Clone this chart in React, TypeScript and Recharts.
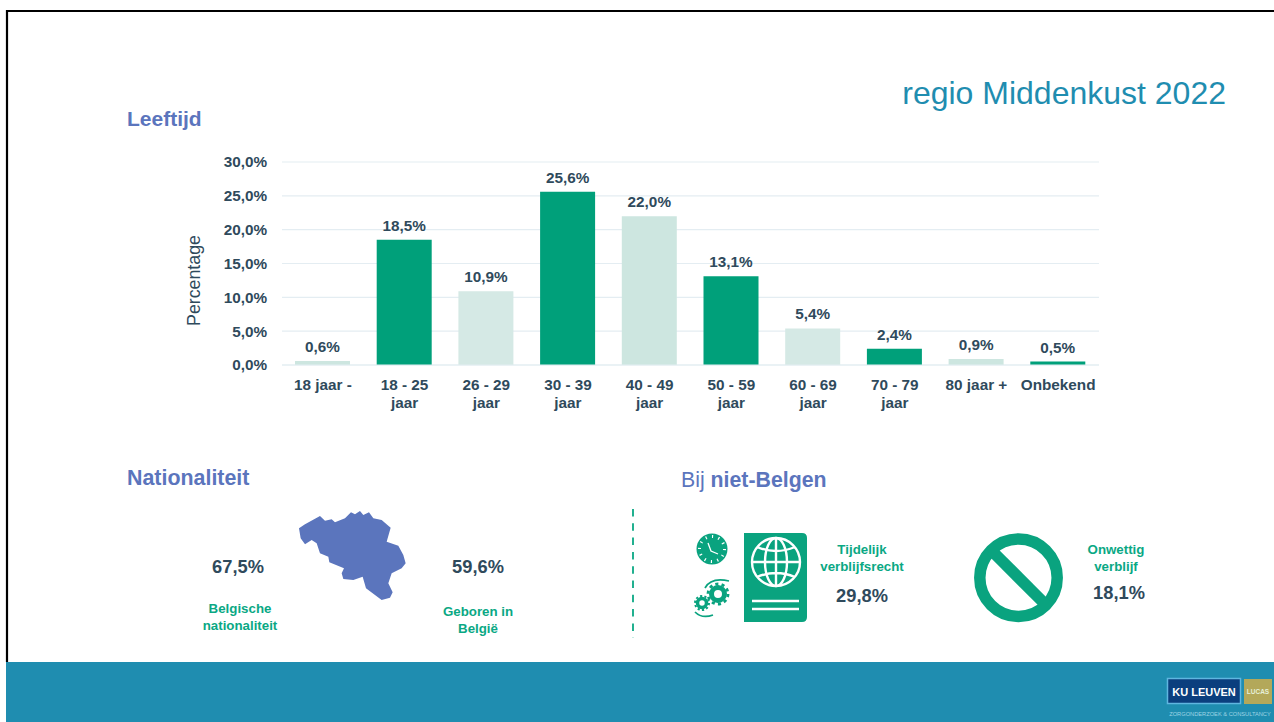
import { BarChart, Bar, Cell, XAxis, YAxis, CartesianGrid, LabelList } from "recharts";

const FONT = "'Liberation Sans', Arial, sans-serif";
const DARK = "#2f4a5c";
const GREEN = "#0aa884";
const BLUE = "#5b75bd";
const ICON = "#0aa37f";

const categories = ["18 jaar -", "18 - 25 jaar", "26 - 29 jaar", "30 - 39 jaar", "40 - 49 jaar", "50 - 59 jaar", "60 - 69 jaar", "70 - 79 jaar", "80 jaar +", "Onbekend"];
const percentages = [0.6, 18.5, 10.9, 25.6, 22.0, 13.1, 5.4, 2.4, 0.9, 0.5];
const barColors = ["#cde6e0", "#00a07a", "#d5e9e5", "#00a07a", "#cde6e0", "#00a07a", "#d5e9e5", "#00a07a", "#cde6e0", "#00a07a"];
const yTicks = [0, 5, 10, 15, 20, 25, 30];

const chartData = categories.map((name, i) => ({ name, value: percentages[i] }));
const pct = (v: number) => v.toFixed(1).replace(".", ",") + "%";

const belgium = "27,70 45,58 90,33 105,47 125,43 135,52 165,40 183,22 195,28 210,18 220,30 237,22 250,40 275,45 302,68 290,110 325,122 340,150 347,175 335,190 305,205 295,235 308,262 300,278 275,285 255,270 228,250 218,215 190,225 160,222 155,205 162,190 118,172 115,155 90,145 80,115 65,105 45,118 32,100";

function AgeTick({ x, y, payload }: any) {
  const value: string = payload.value;
  const lines = value.endsWith(" jaar") ? [value.slice(0, -5), "jaar"] : [value];
  return (
    <text x={x} y={y} textAnchor="middle" fontFamily={FONT} fontSize={15.3} fontWeight="bold" fill={DARK}>
      {lines.map((line, i) => (
        <tspan key={line} x={x} y={y + 11.5 + i * 18} dy="0.35em">{line}</tspan>
      ))}
    </text>
  );
}

function Heading({ x, y, size = 21, children }: any) {
  return <text x={x} y={y} fontFamily={FONT} fontSize={size} fill={BLUE}>{children}</text>;
}

function Stat({ x, y, children }: any) {
  return <text x={x} y={y} textAnchor="middle" fontFamily={FONT} fontSize={18.3} fontWeight="bold" fill={DARK}>{children}</text>;
}

function Caption({ x, y, lines }: { x: number; y: number; lines: string[] }) {
  return (
    <text textAnchor="middle" fontFamily={FONT} fontSize={13.3} fontWeight="bold" fill={GREEN}>
      {lines.map((line, i) => <tspan key={line} x={x} y={y + i * 16.5}>{line}</tspan>)}
    </text>
  );
}

function Slide() {
  return (
    <svg width={1274} height={722} style={{ position: "absolute", left: 0, top: 0 }}>
      <rect x={0} y={0} width={1274} height={722} fill="#fff" />
      <path d="M7 662 V11 H1274" fill="none" stroke="#000" strokeWidth={2.2} />
      <rect x={6} y={662} width={1268} height={60} fill="#1f8db0" />

      <text x={1226} y={104} textAnchor="end" fontFamily={FONT} fontSize={32} fill="#1f8db0">regio Middenkust 2022</text>
      <Heading x={127} y={126}><tspan fontWeight="bold">Leeftijd</tspan></Heading>
      <Heading x={127} y={485} size={21.4}><tspan fontWeight="bold">Nationaliteit</tspan></Heading>
      <Heading x={681} y={487} size={21.3}>Bij <tspan fontWeight="bold">niet-Belgen</tspan></Heading>

      <Stat x={238} y={573}>67,5%</Stat>
      <Stat x={478} y={573}>59,6%</Stat>
      <Stat x={862} y={602}>29,8%</Stat>
      <Stat x={1119} y={599}>18,1%</Stat>
      <Caption x={240} y={613} lines={["Belgische", "nationaliteit"]} />
      <Caption x={478} y={616} lines={["Geboren in", "België"]} />
      <Caption x={862} y={554} lines={["Tijdelijk", "verblijfsrecht"]} />
      <Caption x={1116} y={554} lines={["Onwettig", "verblijf"]} />

      <line x1={633} y1={509} x2={633} y2={638} stroke={GREEN} strokeWidth={1.8} strokeDasharray="7.5 6.8" />

      <g transform="translate(290 505) scale(0.3333)">
        <polygon points={belgium} fill={BLUE} />
      </g>

      {/* passport */}
      <path d="M744 533 H802 Q807 533 807 538 V617 Q807 622 802 622 H744 Z" fill={ICON} />
      <g fill="none" stroke="#fff" strokeWidth={2.4}>
        <circle cx={776} cy={562} r={24} />
        <ellipse cx={776} cy={562} rx={11} ry={24} />
        <path d="M776 538 V586 M752 562 H800 M757 547 Q776 555 795 547 M757 577 Q776 569 795 577" />
        <path d="M752 601 H799 M752 609 H799" />
      </g>

      {/* clock and gears */}
      <circle cx={712} cy={549} r={15.5} fill={ICON} />
      <circle cx={712} cy={549} r={12.5} fill="none" stroke="#fff" strokeWidth={3} strokeDasharray="1.2 5.3" />
      <path d="M708 543 L711 551 L718 554" fill="none" stroke="#fff" strokeWidth={1.3} />
      <g fill="none" stroke={ICON}>
        <circle cx={718} cy={594} r={6.5} strokeWidth={5} />
        <circle cx={718} cy={594} r={10} strokeWidth={2.8} strokeDasharray="3.1 3.2" />
        <circle cx={702} cy={603} r={4.5} strokeWidth={3.5} />
        <circle cx={702} cy={603} r={7} strokeWidth={2} strokeDasharray="2.2 2.2" />
        <path d="M705 588 Q711 577 729 581 M695 612 Q702 619 713 615" strokeWidth={1.7} />
      </g>

      {/* no-entry sign */}
      <g fill="none" stroke={ICON} strokeWidth={11.5}>
        <circle cx={1018.5} cy={577.7} r={38.7} />
        <line x1={991} y1={550} x2={1046} y2={605} />
      </g>

      {/* logo */}
      <rect x={1167.5} y={678.5} width={73} height={25} fill="#0b3f7e" stroke="#5fb6e0" strokeWidth={1.5} />
      <text x={1204} y={696} textAnchor="middle" fontFamily={FONT} fontSize={11} fontWeight="bold" fill="#fff">KU LEUVEN</text>
      <rect x={1244} y={679} width={28} height={25} fill="#b3a85a" />
      <text x={1258} y={694} textAnchor="middle" fontFamily={FONT} fontSize={6.5} fontWeight="bold" fill="#e6f0d8">LUCAS</text>
      <text x={1220} y={716} textAnchor="middle" fontFamily={FONT} fontSize={5.7} fill="#9fd4e4">ZORGONDERZOEK &amp; CONSULTANCY</text>
    </svg>
  );
}

export default function App() {
  return (
    <div style={{ position: "absolute", left: 0, top: 0, width: 1274, height: 722, overflow: "hidden" }}>
      <Slide />
      <div style={{ position: "absolute", left: 0, top: 0 }}>
        <BarChart
          width={1274}
          height={722}
          data={chartData}
          barCategoryGap="16%"
          margin={{ top: 162, right: 175, bottom: 317, left: 182 }}
        >
          <CartesianGrid horizontal vertical={false} stroke="#e4edf2" strokeWidth={1.2} />
          <XAxis dataKey="name" height={40} interval={0} tick={<AgeTick />} tickLine={false} axisLine={{ stroke: "#e4edf2", strokeWidth: 1.2 }} />
          <YAxis
            width={100}
            domain={[0, 30]}
            ticks={yTicks}
            tickFormatter={pct}
            tickLine={false}
            axisLine={false}
            tickMargin={9}
            tick={{ fontFamily: FONT, fontSize: 15.3, fontWeight: "bold", fill: DARK }}
            label={{ value: "Percentage", angle: -90, position: "insideLeft", offset: 12, dy: 17, style: { textAnchor: "middle", fontFamily: FONT, fontSize: 17.8, fill: DARK } }}
          />
          <Bar dataKey="value" barSize={55} isAnimationActive={false}>
            {chartData.map((d, i) => <Cell key={d.name} fill={barColors[i]} />)}
            <LabelList dataKey="value" position="top" formatter={pct as any} offset={9} style={{ fontFamily: FONT, fontSize: 15.3, fontWeight: "bold", fill: DARK }} />
          </Bar>
        </BarChart>
      </div>
    </div>
  );
}
